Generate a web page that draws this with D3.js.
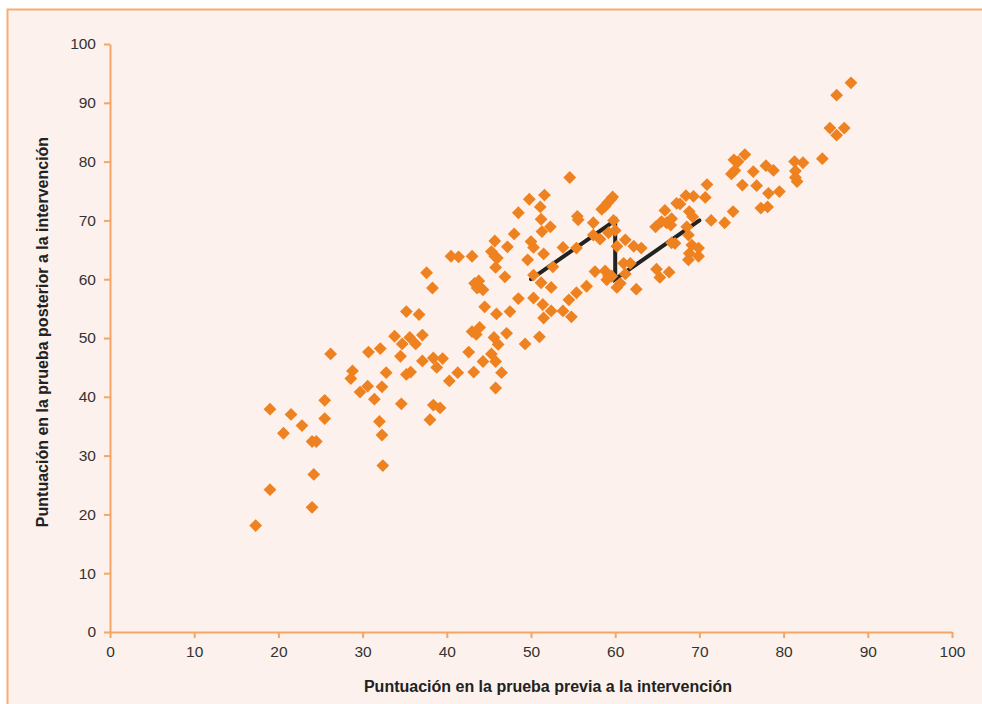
<!DOCTYPE html>
<html>
<head>
<meta charset="utf-8">
<script src="https://cdn.jsdelivr.net/npm/d3@7"></script>
<style>
  html, body { margin: 0; padding: 0; background: #ffffff; }
  svg { display: block; }
</style>
</head>
<body>
<svg id="chart" width="982" height="704"></svg>
<script>
// ---- data ----
const xTicks = [0, 10, 20, 30, 40, 50, 60, 70, 80, 90, 100];
const yTicks = [0, 10, 20, 30, 40, 50, 60, 70, 80, 90, 100];
const xTitle = "Puntuación en la prueba previa a la intervención";
const yTitle = "Puntuación en la prueba posterior a la intervención";

const preScores = [
  17.3, 19.0, 19.0, 20.6, 21.5, 22.8, 24.0, 24.0, 24.5, 24.2,
  25.5, 25.5, 26.2, 28.6, 28.8, 29.7, 30.6, 30.7, 31.4, 32.3,
  32.1, 32.0, 32.3, 32.4, 32.8, 34.5, 34.6, 33.8, 34.7, 35.6,
  36.3, 37.1, 35.2, 36.7, 35.2, 35.7, 37.1, 38.4, 39.5, 38.8,
  38.0, 38.4, 39.2, 40.3, 41.3, 43.2, 42.6, 43.0, 43.5, 37.6,
  38.3, 40.5, 41.4, 43.0, 43.3, 43.6, 43.8, 43.9, 44.3, 44.5,
  43.9, 45.6, 46.1, 47.1, 49.3, 51.0, 45.3, 45.8, 44.3, 46.5,
  45.8, 45.9, 47.5, 48.5, 50.3, 51.4, 52.4, 54.5, 55.4, 53.8,
  54.8, 51.5, 49.8, 51.6, 51.1, 48.5, 51.2, 52.3, 51.3, 48.0,
  45.7, 47.2, 50.0, 50.3, 51.5, 49.6, 45.3, 45.7, 46.0, 45.8,
  46.9, 50.3, 52.6, 51.2, 52.4, 54.6, 56.6, 53.8, 55.4, 55.6,
  55.5, 57.4, 57.4, 58.2, 59.2, 60.0, 58.4, 58.8, 59.1, 59.5,
  59.7, 59.8, 60.2, 61.2, 62.2, 63.1, 57.6, 58.8, 59.2, 59.0,
  59.6, 61.0, 61.8, 61.2, 60.6, 60.2, 62.5, 64.9, 65.3, 66.4,
  64.8, 65.5, 66.7, 66.6, 66.1, 65.9, 67.3, 67.7, 68.4, 69.3,
  68.8, 69.2, 68.5, 68.7, 69.1, 69.9, 68.8, 69.9, 68.7, 66.7,
  67.1, 70.9, 70.7, 71.4, 73.0, 74.0, 73.8, 74.2, 74.1, 74.6,
  75.4, 76.4, 77.9, 78.8, 75.1, 76.8, 78.2, 79.5, 77.3, 78.1,
  81.3, 82.3, 81.4, 81.4, 81.6, 84.6, 85.5, 86.3, 87.2, 86.3,
  88.0
];
const postScores = [
  18.1, 37.9, 24.2, 33.8, 37.0, 35.1, 21.2, 32.4, 32.4, 26.8,
  36.3, 39.4, 47.3, 43.1, 44.4, 40.8, 41.8, 47.6, 39.6, 41.7,
  48.2, 35.8, 33.5, 28.3, 44.1, 46.9, 38.8, 50.3, 49.0, 50.1,
  49.0, 50.5, 54.5, 54.0, 43.8, 44.2, 46.1, 46.6, 46.5, 45.0,
  36.1, 38.6, 38.1, 42.7, 44.1, 44.2, 47.6, 51.1, 50.6, 61.1,
  58.5, 63.9, 63.8, 63.9, 59.3, 58.5, 59.7, 58.7, 58.2, 55.3,
  51.8, 50.1, 48.9, 50.8, 49.0, 50.2, 47.3, 46.0, 46.0, 44.1,
  41.5, 54.1, 54.5, 56.7, 56.8, 55.7, 54.6, 56.5, 57.7, 54.6,
  53.6, 53.4, 73.6, 74.3, 72.3, 71.3, 70.2, 68.9, 68.1, 67.7,
  66.5, 65.5, 66.4, 65.4, 64.3, 63.3, 64.7, 63.9, 63.6, 62.0,
  60.4, 60.7, 62.1, 59.4, 58.6, 77.3, 58.8, 65.4, 65.3, 70.1,
  70.7, 69.6, 67.5, 66.8, 67.9, 68.3, 71.9, 72.4, 73.0, 73.6,
  74.0, 70.0, 65.6, 66.7, 65.6, 65.3, 61.3, 61.4, 60.5, 59.9,
  60.5, 62.7, 62.7, 60.9, 59.3, 58.6, 58.3, 61.7, 60.3, 61.2,
  68.9, 69.8, 70.3, 69.2, 69.6, 71.7, 72.9, 72.8, 74.2, 74.1,
  71.5, 70.6, 68.9, 67.5, 65.8, 65.3, 64.4, 63.9, 63.3, 66.2,
  66.1, 76.1, 73.9, 70.0, 69.6, 71.5, 77.9, 78.5, 80.3, 80.0,
  81.2, 78.3, 79.3, 78.5, 76.0, 75.9, 74.6, 74.9, 72.1, 72.3,
  80.0, 79.8, 78.4, 77.3, 76.6, 80.5, 85.7, 84.5, 85.7, 91.3,
  93.4
];
// zig-zag reference line
const lineX = [50, 60, 60, 70];
const lineY = [60, 70, 60, 70];

// ---- drawing ----
const svg = d3.select("#chart");
const W = 982, H = 704;
const plot = { left: 110, right: 952, top: 44, bottom: 632 };

// panel background with orange frame
svg.append("rect")
  .attr("x", 7.5).attr("y", 9.5)
  .attr("width", W + 20).attr("height", H + 20)
  .attr("fill", "#fcf1ec")
  .attr("stroke", "#f6ad73")
  .attr("stroke-width", 2);

const x = d3.scaleLinear().domain([0, 100]).range([plot.left, plot.right]);
const y = d3.scaleLinear().domain([0, 100]).range([plot.bottom, plot.top]);

const axisColor = "#f5a564";
const labelColor = "#333333";
const tickFont = "Liberation Sans, Arial, sans-serif";

const gx = svg.append("g")
  .attr("transform", `translate(0,${plot.bottom})`)
  .call(d3.axisBottom(x).tickValues(xTicks).tickSize(6).tickSizeOuter(0).tickPadding(8));
const gy = svg.append("g")
  .attr("transform", `translate(${plot.left},0)`)
  .call(d3.axisLeft(y).tickValues(yTicks).tickSize(6).tickSizeOuter(0).tickPadding(8));

[gx, gy].forEach(g => {
  g.select(".domain").attr("stroke", axisColor).attr("stroke-width", 2);
  g.selectAll(".tick line").attr("stroke", axisColor).attr("stroke-width", 2);
  g.selectAll(".tick text")
    .attr("fill", labelColor)
    .style("font-family", tickFont)
    .style("font-size", "15.5px");
});

// reference line
const pts = lineX.map((v, i) => [x(v), y(lineY[i])]);
svg.append("path")
  .attr("d", d3.line()(pts))
  .attr("fill", "none")
  .attr("stroke", "#222222")
  .attr("stroke-width", 4)
  .attr("stroke-linecap", "round")
  .attr("stroke-linejoin", "miter");

// points
const diamond = d3.symbol().type(d3.symbolSquare).size(82);
svg.append("g").selectAll("path")
  .data(preScores.map((v, i) => ({ px: v, py: postScores[i] })))
  .join("path")
  .attr("d", diamond)
  .attr("transform", d => `translate(${x(d.px)},${y(d.py)}) rotate(45)`)
  .attr("fill", "#ef8220");

// axis titles
svg.append("text")
  .attr("x", 548).attr("y", 692)
  .attr("text-anchor", "middle")
  .attr("fill", "#222")
  .style("font-family", tickFont)
  .style("font-weight", "bold")
  .style("font-size", "16px")
  .text(xTitle);

svg.append("text")
  .attr("transform", `translate(48,332) rotate(-90)`)
  .attr("text-anchor", "middle")
  .attr("fill", "#222")
  .style("font-family", tickFont)
  .style("font-weight", "bold")
  .style("font-size", "16px")
  .text(yTitle);
</script>
</body>
</html>
